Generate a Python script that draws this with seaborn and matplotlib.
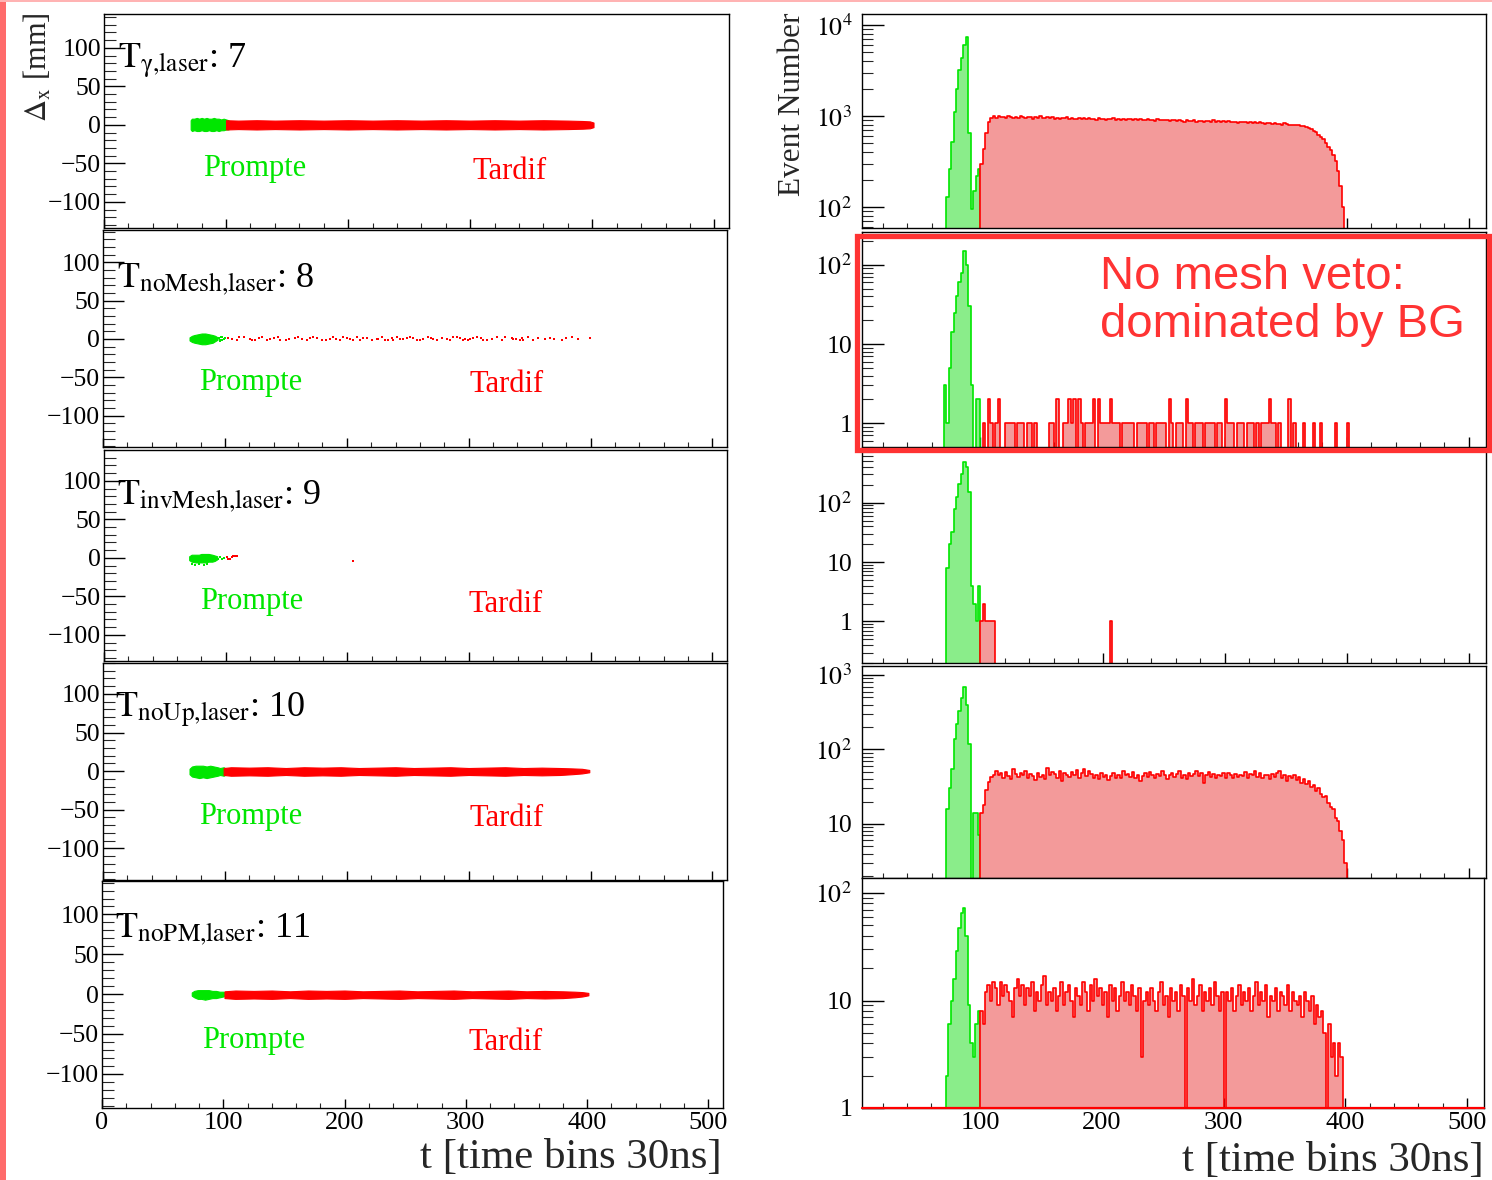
import numpy as np
import pandas as pd
import matplotlib
matplotlib.use("Agg")
import matplotlib.pyplot as plt
import seaborn as sns
from matplotlib.patches import Rectangle
from matplotlib.ticker import (MultipleLocator, FixedLocator, LogLocator,
                               NullFormatter, FuncFormatter)

# ====================== DATA ======================
BIN_W = 2  # histogram bin width (time bins)

# --- right column: Event Number histograms (green = prompt, red = late) ---
R1_green_start = 72
R1_green = [130, 260, 520, 1100, 2000, 3200, 4300, 6000, 7300, 650, 95, 150, 220, 260]
R1_red_start = 100
R1_red = [300, 430, 650, 860, 950, 990, 960, 1000, 970, 985,
          960, 990, 975, 950, 985, 960, 995, 970, 950, 980,
          965, 940, 975, 955, 990, 960, 945, 970, 950, 965,
          940, 960, 935, 955, 945, 965, 930, 950, 940, 925,
          955, 935, 945, 920, 950, 930, 940, 915, 945, 925,
          935, 910, 930, 920, 945, 905, 925, 915, 930, 900,
          920, 935, 905, 925, 910, 920, 895, 915, 930, 905,
          915, 890, 920, 905, 895, 915, 900, 885, 910, 895,
          880, 905, 890, 870, 900, 885, 875, 895, 870, 890,
          880, 865, 890, 875, 860, 910, 870, 880, 855, 875,
          865, 880, 850, 870, 860, 845, 865, 850, 870, 840,
          855, 845, 860, 835, 850, 840, 825, 845, 830, 820,
          830, 815, 820, 805, 840, 810, 800, 795, 790, 800,
          790, 780, 775, 760, 740, 720, 690, 660, 620, 590,
          560, 510, 460, 420, 370, 320, 250, 170, 100, 50]

R2_green_start = 70
R2_green = [3, 1, 5, 14, 25, 40, 60, 79, 150, 100, 30, 3, 0, 2, 2]
R2_red_t = [102, 106, 108, 112, 114, 120, 122, 124, 126, 130, 132, 134, 138, 140,
            144, 156, 158, 162, 168, 170, 172, 174, 176, 180, 182, 186, 188, 190,
            192, 196, 198, 200, 202, 204, 206, 208, 210, 212, 216, 218, 220, 222,
            224, 228, 230, 232, 234, 238, 240, 244, 246, 248, 250, 254, 256, 260,
            262, 264, 268, 270, 272, 276, 278, 280, 284, 286, 288, 290, 294, 296,
            300, 302, 304, 306, 310, 312, 314, 318, 320, 322, 326, 330, 332, 334,
            336, 338, 340, 344, 352, 356, 364, 372, 378, 390, 400]
R2_red_n = [1, 2, 1, 1, 2, 1, 1, 1, 1, 1, 1, 1, 1, 1,
            1, 1, 1, 2, 1, 1, 2, 1, 2, 2, 1, 1, 1, 1,
            2, 2, 1, 1, 1, 1, 2, 1, 1, 1, 1, 1, 1, 1,
            1, 1, 1, 1, 1, 1, 1, 1, 1, 1, 1, 2, 1, 1,
            1, 1, 2, 1, 1, 1, 1, 1, 1, 1, 1, 1, 1, 1,
            2, 1, 1, 1, 1, 1, 1, 1, 1, 1, 1, 1, 1, 1,
            2, 1, 1, 1, 2, 1, 1, 1, 1, 1, 1]

R3_green_start = 72
R3_green = [8, 20, 32, 78, 125, 210, 300, 490, 400, 153, 4, 2, 1, 4]
R3_red_t = [100, 102, 104, 106, 108, 110, 206]
R3_red_n = [1, 2, 1, 1, 1, 1, 1]

R4_green_start = 72
R4_green = [16, 30, 55, 140, 220, 330, 490, 680, 400, 120, 1, 14, 14, 7]
R4_red_start = 100
R4_red = [14, 18, 29, 37, 43, 46, 52, 45, 48, 42,
          50, 44, 40, 54, 47, 43, 49, 45, 51, 41,
          47, 44, 39, 48, 43, 46, 40, 56, 45, 50,
          47, 42, 52, 38, 48, 45, 43, 50, 46, 53,
          41, 48, 55, 44, 51, 47, 42, 46, 40, 49,
          43, 45, 39, 44, 48, 42, 46, 41, 52, 45,
          47, 43, 50, 42, 46, 38, 44, 48, 43, 50,
          45, 41, 47, 44, 52, 46, 40, 45, 49, 43,
          47, 51, 42, 46, 40, 48, 44, 47, 52, 44,
          49, 36, 45, 50, 43, 47, 41, 46, 44, 48,
          42, 49, 45, 41, 47, 43, 46, 44, 50, 42,
          47, 45, 52, 43, 48, 41, 46, 45, 40, 47,
          43, 49, 51, 42, 45, 38, 44, 41, 46, 39,
          43, 36, 40, 34, 38, 31, 33, 28, 30, 25,
          23, 24, 19, 17, 16, 12, 11, 8, 6, 3]

R5_green_start = 72
R5_green = [2, 6, 10, 16, 29, 47, 65, 72, 40, 9, 4, 3, 6, 8]
R5_red_start = 100
R5_red = [8, 6, 12, 14, 10, 15, 13, 9, 15, 11,
          14, 12, 10, 7, 13, 16, 11, 14, 9, 13,
          11, 15, 8, 12, 10, 14, 17, 9, 12, 10,
          13, 8, 11, 15, 9, 12, 14, 10, 7, 13,
          11, 9, 15, 12, 8, 14, 10, 16, 11, 13,
          9, 12, 7, 14, 10, 13, 8, 11, 15, 10,
          12, 9, 14, 11, 8, 13, 3, 10, 12, 9,
          13, 10, 8, 12, 15, 9, 11, 7, 13, 10,
          12, 8, 14, 11, 1, 13, 10, 16, 9, 11,
          14, 8, 12, 10, 13, 9, 15, 11, 8, 12,
          1, 12, 10, 13, 8, 11, 14, 9, 12, 10,
          13, 8, 11, 15, 9, 12, 10, 14, 7, 11,
          10, 13, 8, 12, 11, 9, 14, 8, 12, 10,
          9, 11, 7, 12, 10, 8, 11, 6, 9, 7,
          8, 5, 1, 6, 3, 4, 2, 4, 3, 1]

# --- left column: Delta_x vs t scatter (dense bands as envelopes, sparse as points) ---
L1_green_t = [71, 72, 74, 76, 78, 80, 82, 84, 86, 88, 90, 92, 94, 96, 98, 100, 102]
L1_green_hi = [6, 8, 8, 9, 8, 9, 8, 9, 8, 8, 9, 8, 8, 7, 8, 7, 6]
L1_green_lo = [-6, -8, -7, -8, -8, -7, -8, -8, -7, -8, -8, -7, -8, -7, -7, -6, -6]
L1_red_t = [100, 110, 125, 140, 160, 180, 200, 220, 240, 260, 280, 300, 320, 340, 360, 380, 392, 398, 401]
L1_red_hi = [6, 5.5, 6, 5.5, 6, 5.5, 6, 5.5, 6, 5.5, 6, 5.5, 6, 5.5, 6, 5.5, 5, 4.5, 3]
L1_red_lo = [-6, -5.5, -6, -5.5, -6, -5.5, -6, -5.5, -6, -5.5, -6, -5.5, -6, -5.5, -6, -5.5, -5, -4.5, -3]

L2_green_t = [71, 73, 75, 78, 81, 84, 87, 90, 92, 94]
L2_green_hi = [2, 4, 5, 6, 7, 7, 6, 5, 4, 2]
L2_green_lo = [-2, -4, -5, -6, -7, -7, -6, -5, -3, -1]
L2_green_pt_t = [95, 96, 97, 98, 99, 100, 96, 98]
L2_green_pt_dx = [1, -2, 2, -1, 0, 1, -3, 3]
L2_red_t = [102.8, 109.7, 111.8, 120.6, 122.0, 128.2, 130.2, 134.8, 137.0, 143.8,
            145.2, 157.5, 163.0, 167.1, 172.5, 175.3, 179.4, 186.2, 188.9, 194.4,
            199.9, 202.6, 205.3, 208.1, 216.3, 220.4, 224.5, 228.6, 231.3, 236.8,
            238.2, 243.6, 249.1, 251.8, 257.3, 262.8, 266.9, 273.7, 277.8, 281.9,
            284.7, 290.1, 292.9, 297.0, 299.7, 303.8, 306.6, 314.8, 318.9, 323.0,
            327.1, 335.3, 336.6, 342.1, 343.4, 348.9, 353.0, 362.6, 366.7, 376.3,
            384.5, 390.0, 399.5]
L2_red_dx = [1, -1, 2, 0, -2, 1, 3, -1, 0, 2,
             -2, 1, 0, -1, 2, 1, -2, 0, 3, -1,
             1, 0, -2, 2, 1, -1, 0, 2, -1, 1,
             -2, 0, 1, 3, -1, 0, 2, -2, 1, 0,
             -1, 2, 1, 0, -2, 1, 3, -1, 0, 2,
             -1, 1, 0, -2, 1, 2, -1, 0, 1, -2,
             2, 0, 1]
L2_red_t2 = [105.5, 116, 125, 140, 150, 153, 160, 170, 183, 191,
             197, 211, 213, 226, 234, 241, 246, 254, 260, 269,
             271, 287, 295, 301, 310, 312, 330, 339, 345, 357,
             370, 380]
L2_red_dx2 = [0, 2, -1, 1, -2, 0, 2, 1, -1, 0,
              3, -2, 1, 0, -1, 2, 0, 1, -2, 1,
              0, 2, -1, 0, 1, -1, 2, 0, -2, 1,
              0, 1]

L3_green_t = [70, 72, 75, 78, 80, 83, 86, 89, 91, 93]
L3_green_hi = [2, 4, 4, 4, 5, 5, 5, 4, 3, 2]
L3_green_lo = [-3, -5, -6, -6, -6, -6, -5, -5, -4, -2]
L3_green_pt_t = [72, 75, 78, 82, 85, 94, 95, 97, 99]
L3_green_pt_dx = [-8, -9, -8, -9, -8, -1, 1, -2, 0]
L3_red_t = [100.8, 102.2, 103.5, 104.9, 106.2, 107.6, 109.5, 204.3]
L3_red_dx = [1.7, -1, -1, 1.7, 2.6, 2.6, 2.6, -3.5]

L4_green_t = [71, 73, 76, 79, 82, 85, 88, 91, 94, 96, 99, 101]
L4_green_hi = [3, 6, 7, 7, 7, 6, 7, 6, 5, 4, 5, 3]
L4_green_lo = [-4, -7, -8, -9, -8, -9, -8, -7, -6, -5, -6, -4]
L4_red_t = [99, 105, 120, 135, 150, 165, 180, 195, 210, 225, 240, 255, 270, 285,
            300, 315, 330, 345, 360, 375, 385, 393, 399]
L4_red_hi = [4, 5, 4.5, 5, 4, 5, 4.5, 5, 4, 4.5, 5, 4, 4.5, 5, 4, 4.5, 5, 4, 4.5, 4, 3.5, 3, 1.5]
L4_red_lo = [-5, -6, -5.5, -6, -5, -6, -5.5, -6, -5, -5.5, -6, -5, -5.5, -6, -5, -5.5,
             -6, -5, -5.5, -5, -4, -3, -1.5]

L5_green_t = [74, 76, 79, 82, 85, 88, 91, 94, 97, 100, 102]
L5_green_hi = [2, 4, 5, 5, 5, 5, 4, 4, 3, 3, 2]
L5_green_lo = [-2, -4, -6, -6, -7, -6, -5, -5, -4, -3, -2]
L5_red_t = [101, 110, 125, 140, 155, 170, 185, 200, 215, 230, 245, 260, 275, 290,
            305, 320, 335, 350, 365, 380, 390, 396, 401]
L5_red_hi = [3.5, 4.5, 4, 4.5, 3.5, 4.5, 4, 4.5, 3.5, 4, 4.5, 3.5, 4, 4.5, 3.5, 4, 4.5,
             3.5, 4, 3.5, 3, 2.5, 1.5]
L5_red_lo = [-5, -6, -5.5, -6, -5, -6, -5.5, -6, -5, -5.5, -6, -5, -5.5, -6, -5, -5.5,
             -6, -5, -5.5, -5, -4, -3, -1.5]

TITLES = [r'$\mathrm{T}_{\mathrm{γ{,}laser}}$: 7',
          r'$\mathrm{T}_{\mathrm{noMesh{,}laser}}$: 8',
          r'$\mathrm{T}_{\mathrm{invMesh{,}laser}}$: 9',
          r'$\mathrm{T}_{\mathrm{noUp{,}laser}}$: 10',
          r'$\mathrm{T}_{\mathrm{noPM{,}laser}}$: 11']
LEFT_YTICKS = [-100, -50, 0, 50, 100]

# ====================== STYLE ======================
sns.set_theme(style="white")
plt.rcParams['font.family'] = ['Liberation Serif', 'DejaVu Serif']
plt.rcParams['mathtext.fontset'] = 'stix'
plt.rcParams['axes.unicode_minus'] = True

GREEN = '#00e600'
RED = '#ff0000'
GREEN_FILL = '#8aed8a'
RED_FILL = '#f39a9a'

W, H = 1492, 1180
fig = plt.figure(figsize=(W / 100, H / 100), dpi=100)
fig.patch.set_facecolor('white')


def box(x0, y0, x1, y1):
    return [x0 / W, 1 - y1 / H, (x1 - x0) / W, (y1 - y0) / H]


L_boxes = [(104, 14, 729, 228), (103, 230, 727, 447), (104, 450, 727, 661),
           (103, 663, 727, 880), (102, 881, 723, 1108)]
R_boxes = [(862, 14, 1486, 228), (862, 232, 1486, 447), (862, 450, 1486, 663),
           (862, 666, 1486, 878), (862, 878, 1484, 1108)]
L_ylims = [(-134, 144), (-141, 142), (-134, 140), (-141, 140), (-143, 142)]
R_ylims = [(59, 13200), (0.5, 260), (0.2, 770), (1.88, 1320), (1, 138)]


def frame(ax):
    ax.set_facecolor('white')
    ax.grid(False)
    for s in ax.spines.values():
        s.set_visible(True)
        s.set_color('black')
        s.set_linewidth(1.0)


def hist(ax, start, counts, edge, face):
    counts = np.asarray(counts, float)
    edges = start + BIN_W * np.arange(len(counts) + 1)
    centers = edges[:-1] + BIN_W / 2
    df = pd.DataFrame({'t': centers, 'n': counts})
    sns.histplot(data=df, x='t', weights='n', bins=list(edges), element='step',
                 fill=True, ax=ax, facecolor=face, edgecolor=edge, linewidth=1.2,
                 alpha=1)


def sparse_counts(t_list, n_list, start=100, nbins=151):
    c = np.zeros(nbins)
    for t, n in zip(t_list, n_list):
        c[int((t - start) // BIN_W)] += n
    return c


def logfmt(v, pos):
    if abs(v - 1) < 1e-9:
        return '1'
    if abs(v - 10) < 1e-9:
        return '10'
    return r'$10^{%d}$' % int(round(np.log10(v)))


# ====================== LEFT COLUMN ======================
left_bands = [
    [(L1_green_t, L1_green_lo, L1_green_hi, GREEN), (L1_red_t, L1_red_lo, L1_red_hi, RED)],
    [(L2_green_t, L2_green_lo, L2_green_hi, GREEN)],
    [(L3_green_t, L3_green_lo, L3_green_hi, GREEN)],
    [(L4_green_t, L4_green_lo, L4_green_hi, GREEN), (L4_red_t, L4_red_lo, L4_red_hi, RED)],
    [(L5_green_t, L5_green_lo, L5_green_hi, GREEN), (L5_red_t, L5_red_lo, L5_red_hi, RED)],
]
left_points = [
    [],
    [(L2_green_pt_t, L2_green_pt_dx, GREEN), (L2_red_t + L2_red_t2, L2_red_dx + L2_red_dx2, RED)],
    [(L3_green_pt_t, L3_green_pt_dx, GREEN), (L3_red_t, L3_red_dx, RED)],
    [], [],
]
title_pos = [(0.022, 0.748), (0.022, 0.737), (0.021, 0.744), (0.019, 0.751), (0.021, 0.753)]
prompte_pos = [(123, -57), (121, -57.5), (121, -57), (121, -58.5), (125, -58)]
tardif_pos = [(332, -60), (331, -59), (330, -60), (331, -61), (333, -60.5)]

for i in range(5):
    ax = fig.add_axes(box(*L_boxes[i]))
    frame(ax)
    for (t, lo, hi, c) in left_bands[i]:
        ax.fill_between(t, lo, hi, color=c, linewidth=0.8, edgecolor=c, zorder=3)
    for (t, dx, c) in left_points[i]:
        pts = pd.DataFrame({'t': t, 'dx': dx})
        sns.scatterplot(data=pts, x='t', y='dx', ax=ax, color=c, marker='s', s=4,
                        linewidth=0, zorder=4)
    ax.set_xlim(0, 512)
    ax.set_ylim(*L_ylims[i])
    ax.yaxis.set_major_locator(FixedLocator(LEFT_YTICKS))
    ax.yaxis.set_minor_locator(MultipleLocator(10))
    ax.xaxis.set_major_locator(MultipleLocator(100))
    ax.xaxis.set_minor_locator(MultipleLocator(20))
    ax.tick_params(axis='y', which='major', direction='in', length=15, width=1,
                   left=True, right=False, labelsize=18.5, pad=2, colors='black')
    ax.tick_params(axis='y', which='minor', direction='in', length=8.5, width=0.8,
                   left=True, right=False)
    ax.tick_params(axis='x', which='major', direction='in', length=6.5, width=1,
                   bottom=True, top=False, labelsize=19, pad=3, colors='black',
                   labelbottom=(i == 4))
    ax.tick_params(axis='x', which='minor', direction='in', length=3.5, width=0.8,
                   bottom=True, top=False)
    ax.set_xlabel('')
    ax.set_ylabel('')
    ax.text(*title_pos[i], TITLES[i], transform=ax.transAxes, fontsize=26,
            va='baseline', ha='left', color='black', zorder=6)
    ax.text(*prompte_pos[i], 'Prompte', color=GREEN, fontsize=22, ha='center', va='center')
    ax.text(*tardif_pos[i], 'Tardif', color=RED, fontsize=22, ha='center', va='center')

# ====================== RIGHT COLUMN ======================
right_data = [
    (R1_green_start, R1_green, R1_red_start, R1_red),
    (R2_green_start, R2_green, 100, sparse_counts(R2_red_t, R2_red_n)),
    (R3_green_start, R3_green, 100, sparse_counts(R3_red_t, R3_red_n)),
    (R4_green_start, R4_green, R4_red_start, R4_red),
    (R5_green_start, R5_green, R5_red_start, R5_red),
]
for i in range(5):
    ax = fig.add_axes(box(*R_boxes[i]))
    frame(ax)
    gs, g, rs, r = right_data[i]
    hist(ax, gs, g, GREEN, GREEN_FILL)
    hist(ax, rs, r, RED, RED_FILL)
    ax.set_yscale('log', nonpositive='clip')
    ax.set_xlim(3, 514)
    lo, hi = R_ylims[i]
    ax.set_ylim(lo, hi)
    decades = [10.0 ** k for k in range(-1, 6) if lo <= 10.0 ** k <= hi]
    ax.yaxis.set_major_locator(FixedLocator(decades))
    ax.yaxis.set_major_formatter(FuncFormatter(logfmt))
    ax.yaxis.set_minor_locator(LogLocator(base=10, subs=np.arange(2, 10), numticks=30))
    ax.yaxis.set_minor_formatter(NullFormatter())
    ax.xaxis.set_major_locator(MultipleLocator(100))
    ax.xaxis.set_minor_locator(MultipleLocator(20))
    ax.tick_params(axis='y', which='major', direction='in', length=16, width=1,
                   left=True, right=False, labelsize=18.5, pad=7, colors='black')
    ax.tick_params(axis='y', which='minor', direction='in', length=8, width=0.8,
                   left=True, right=False)
    ax.tick_params(axis='x', which='major', direction='in', length=7, width=1,
                   bottom=True, top=False, labelsize=19, pad=3, colors='black',
                   labelbottom=(i == 4))
    ax.tick_params(axis='x', which='minor', direction='in', length=3.5, width=0.8,
                   bottom=True, top=False)
    ax.set_xlabel('')
    ax.set_ylabel('')
    if i == 4:
        ax.axhline(lo, color=RED, lw=1.6, zorder=6, clip_on=False)

# ====================== FIGURE TEXT / OVERLAYS ======================
fig.text(38 / W, 1 - 12 / H, r'$\Delta_{\mathrm{x}}$ [mm]', rotation=90, ha='center',
         va='top', fontsize=22)
fig.text(792 / W, 1 - 12 / H, 'Event Number', rotation=90, ha='center', va='top',
         fontsize=22.5)
fig.text(722 / W, 1 - 1158 / H, 't [time bins 30ns]', ha='right', va='center', fontsize=31)
fig.text(1484 / W, 1 - 1161 / H, 't [time bins 30ns]', ha='right', va='center', fontsize=31)

fig.patches.append(Rectangle((857 / W, 1 - 450 / H), (1489 - 857) / W, (450 - 236) / H,
                             transform=fig.transFigure, fill=False, edgecolor='#ff3333',
                             linewidth=3.8, zorder=20))
fig.text(1100 / W, 1 - 255 / H, 'No mesh veto:\ndominated by BG', ha='left', va='top',
         fontsize=34, color='#ff3333', family='Liberation Sans', linespacing=1.13,
         zorder=21)
fig.patches.append(Rectangle((0, 0), 6 / W, 1, transform=fig.transFigure,
                             facecolor='#ff6b6b', edgecolor='none', zorder=20))
fig.patches.append(Rectangle((0, 1 - 2 / H), 1, 2 / H, transform=fig.transFigure,
                             facecolor='#ffb3b3', edgecolor='none', zorder=20))

fig.savefig('out.png', dpi=100)
